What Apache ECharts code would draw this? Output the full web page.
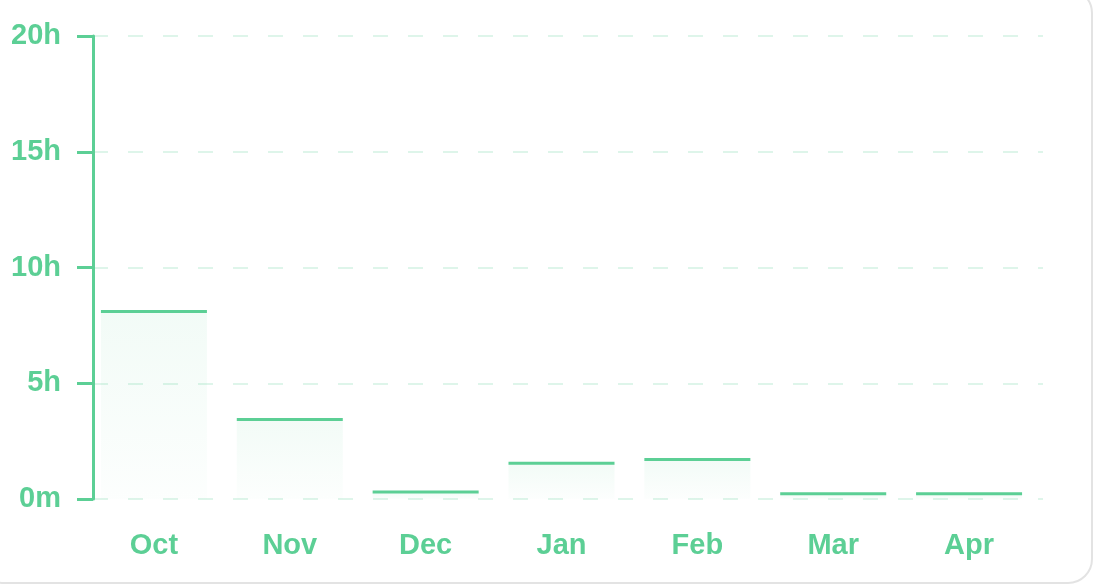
<!DOCTYPE html>
<html>
<head>
<meta charset="utf-8">
<script src="https://cdn.jsdelivr.net/npm/echarts@6/dist/echarts.min.js"></script>
<style>
html,body{margin:0;padding:0;background:#fff;}
#chart{width:1100px;height:585px;}
</style>
</head>
<body>
<div id="chart"></div>
<script>
var months = ['Oct', 'Nov', 'Dec', 'Jan', 'Feb', 'Mar', 'Apr'];
var hours = [8.1, 3.43, 0.3, 1.54, 1.71, 0.23, 0.23];
var yTicks = [0, 5, 10, 15, 20];

var green = '#5ccf95';
var chart = echarts.init(document.getElementById('chart'));
chart.setOption({
  animation: false,
  backgroundColor: '#fff',
  graphic: [{
    type: 'rect',
    shape: {x: -20, y: -11, width: 1112, height: 594, r: 24},
    style: {fill: 'none', stroke: '#e3e3e3', lineWidth: 2},
    silent: true, z: -10
  }],
  grid: [
    {left: 86, width: 951, top: 36, height: 463},
    {left: 93, width: 950, top: 36, height: 463}
  ],
  xAxis: [
    {
      type: 'category', gridIndex: 0, data: months,
      axisLine: {show: false}, axisTick: {show: false},
      axisLabel: {color: green, fontSize: 29, fontWeight: 'bold', fontFamily: 'Liberation Sans, Arial, sans-serif', margin: 32}
    },
    {
      type: 'value', gridIndex: 1, min: 0, max: 1, show: false
    }
  ],
  yAxis: [
    {type: 'value', gridIndex: 0, min: 0, max: 20, interval: 5, show: false},
    {
      type: 'value', gridIndex: 1, min: 0, max: 20, interval: 5,
      axisLine: {show: true, lineStyle: {color: green, width: 3}},
      axisTick: {show: true, length: 16, lineStyle: {color: green, width: 3}},
      axisLabel: {
        color: green, fontSize: 29, fontWeight: 'bold', fontFamily: 'Liberation Sans, Arial, sans-serif', margin: 32,
        formatter: function (v) { return v === yTicks[0] ? '0m' : v + 'h'; }
      },
      splitLine: {show: true, lineStyle: {color: '#def5ea', width: 2, type: [15, 20]}}
    }
  ],
  series: [
    {
      type: 'bar', xAxisIndex: 0, yAxisIndex: 0, data: hours, barWidth: 106,
      itemStyle: {
        color: new echarts.graphic.LinearGradient(0, 0, 0, 1, [
          {offset: 0, color: 'rgba(92,207,149,0.08)'},
          {offset: 1, color: 'rgba(92,207,149,0.015)'}
        ])
      },
      z: 2
    },
    {
      type: 'scatter', xAxisIndex: 0, yAxisIndex: 0, data: hours,
      symbol: 'rect', symbolSize: [106, 3],
      itemStyle: {color: green, opacity: 1},
      z: 5
    }
  ]
});
</script>
</body>
</html>
